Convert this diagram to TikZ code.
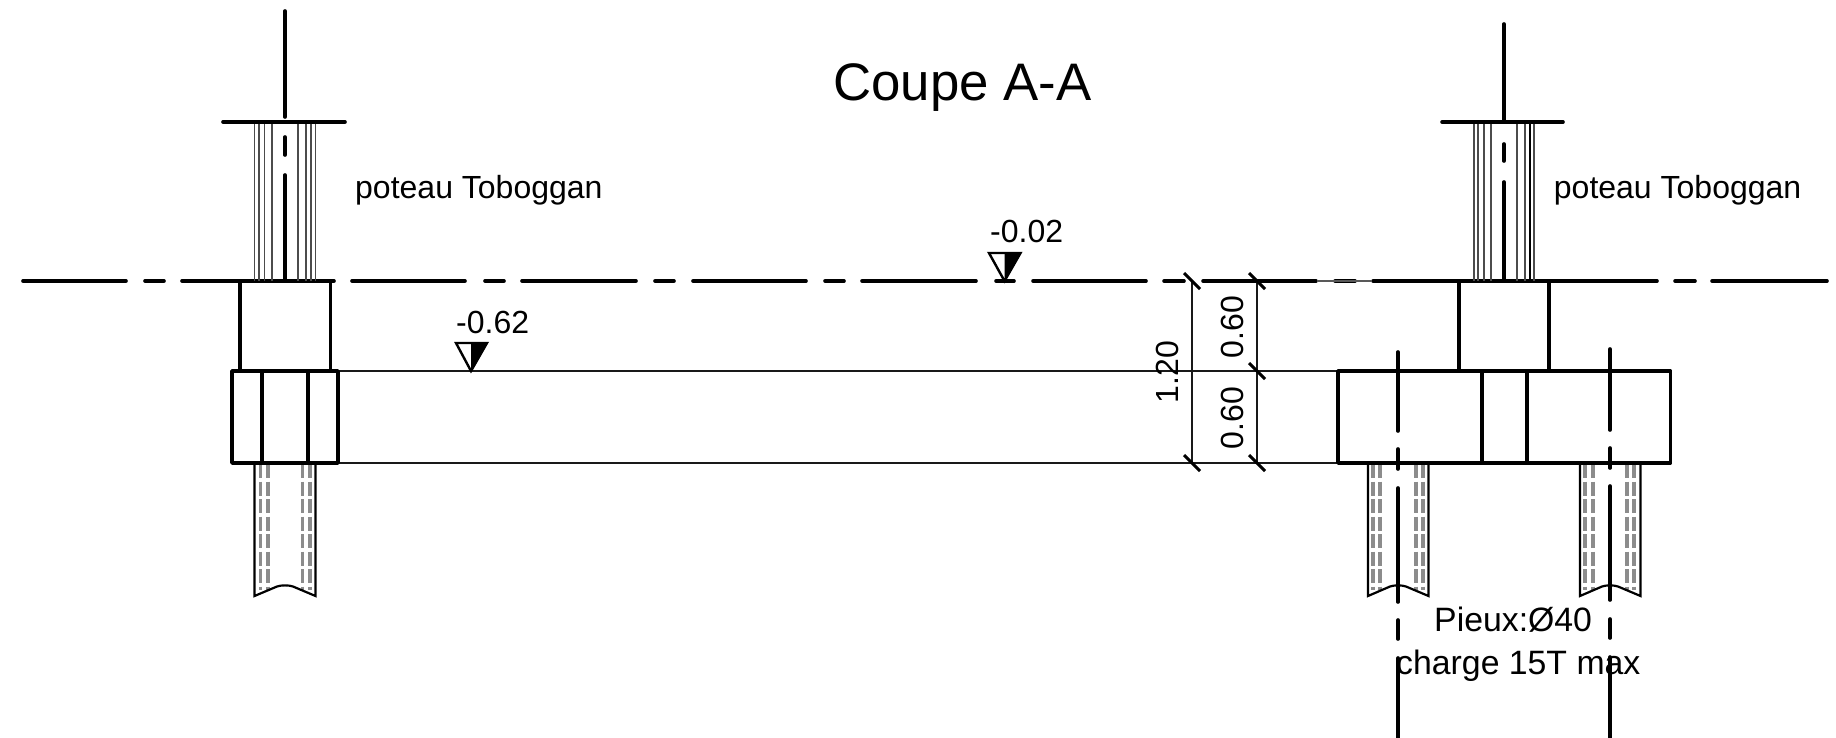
\documentclass[tikz,border=0pt]{standalone}
\usepackage{fontspec}
\setmainfont{Liberation Sans}
\tikzset{
  heavy/.style={line width=3.6pt,line cap=round,line join=round,black},
  wall/.style={line width=3.8pt,line join=round,black},
  thin line/.style={line width=2pt,black!90},
  hair/.style={line width=1.5pt,black!70},
  rebar/.style={line width=3.4pt,black!45,dash pattern=on 14pt off 3.5pt},
  piletube/.style={line width=2.2pt,black},
  tick/.style={line width=3pt,black},
  label/.style={inner sep=0pt,anchor=base west,font=\fontsize{32}{32}\selectfont},
  vlabel/.style={inner sep=0pt,anchor=base,rotate=90,font=\fontsize{32}{32}\selectfont},
}
\newcommand{\pilefoot}[6]{%
  % axis, left, right, four rebars
  \foreach \gx in {#3,#4,#5,#6} \draw[rebar] (\gx,464) -- (\gx,590);
  \draw[piletube] (#2,464) -- (#2,596) -- (#1-8,586.5) .. controls (#1-4,585) and (#1+4,585) .. (#1+8,586.5)
     -- (#1+30.5,596) -- (#1+30.5,464);
}
\begin{document}
\begin{tikzpicture}[x=1pt,y=-1pt]
\useasboundingbox (0,0) rectangle (1836,738);
% ground line
\foreach \a/\b in {23/126,145/164,182/334,352/465,485/504,522/636,655/674,693/806,825/844,862/976,996/1014,1033/1146,1164/1184,1203/1316,1335/1355,1373/1657,1675/1695,1712/1827}
  \draw[heavy] (\a,281) -- (\b,281);
\draw[line width=1.5pt,black!65] (1317,281) -- (1372,281);
% column 1
\foreach \x in {254.5,259,264.5,272,298,306,311,315.5} \draw[hair] (\x,122) -- (\x,281);
\draw[heavy] (223,122) -- (345,122);
\draw[heavy] (285,11) -- (285,117);
\draw[heavy] (285,137) -- (285,155);
\draw[heavy] (285,175) -- (285,281);
\draw[wall] (240,281) -- (240,371);
\draw[wall] (330.5,281) -- (330.5,371);
% column 2
\foreach \x in {1474,1478,1484,1491,1517,1525,1534} \draw[hair] (\x,122) -- (\x,281);
\draw[hair,line width=2.4pt,black] (1530,122) -- (1530,281);
\draw[heavy] (1442,122) -- (1563,122);
\draw[heavy] (1504,24) -- (1504,122);
\draw[heavy] (1504,144) -- (1504,161);
\draw[heavy] (1504,182) -- (1504,281);
\draw[wall] (1459,281) -- (1459,371);
\draw[wall] (1549,281) -- (1549,371);
% long beam lines
\draw[thin line] (338,371) -- (1338,371);
\draw[thin line] (338,463) -- (1338,463);
% piles
\pilefoot{285}{254.5}{260.5}{268}{302.5}{310}
\pilefoot{1398}{1368}{1373}{1380}{1416}{1423}
\pilefoot{1610}{1580}{1585}{1593}{1627}{1634}
% footings
\draw[wall] (232,371) rectangle (338,463);
\draw[wall] (262,371) -- (262,463);
\draw[wall] (308,371) -- (308,463);
\draw[wall] (1338,371) rectangle (1670.5,463);
\draw[wall] (1482,371) -- (1482,463);
\draw[wall] (1527,371) -- (1527,463);
% pile axes
\foreach \a/\b in {352/431,449/469,488/602,620/639,658/738} \draw[heavy] (1398,\a) -- (1398,\b);
\foreach \a/\b in {349/430,448/468,486/600,619/638,657/738} \draw[heavy] (1610,\a) -- (1610,\b);
% dimensions
\draw[thin line,line width=1.5pt] (1192,281) -- (1192,463);
\draw[thin line,line width=1.5pt] (1257,281) -- (1257,463);
\foreach \x/\y in {1192/281,1192/463,1257/281,1257/371,1257/463}
  \draw[tick] (\x-8,\y-8) -- (\x+8,\y+8);
% level markers
\fill[black] (471,343) -- (487,343) -- (471,371) -- cycle;
\draw[line width=2.4pt,line join=miter] (456,343) -- (487,343) -- (471,371) -- cycle;
\fill[black] (1004.5,253) -- (1020.5,253) -- (1004.5,281) -- cycle;
\draw[line width=2.4pt,line join=miter] (989,253) -- (1020.5,253) -- (1004.5,281) -- cycle;
% texts
\node[label,font=\fontsize{52.8}{52.8}\selectfont] (title) at (833,101) {Coupe A-A};
\node[label] (pot1) at (355,199) {poteau Toboggan};
\node[label] (pot2) at (1553.7,199) {poteau Toboggan};
\node[label] (lev1) at (990,243) {-0.02};
\node[label] (lev2) at (456,333) {-0.62};
\node[label,font=\fontsize{33.8}{33.8}\selectfont] (pieux) at (1434,631) {Pieux:Ø40};
\node[label,font=\fontsize{33.8}{33.8}\selectfont] (charge) at (1396,674) {charge 15T max};
\node[vlabel] (d1) at (1243,327) {0.60};
\node[vlabel] (d2) at (1243,418) {0.60};
\node[vlabel] (d3) at (1178,372) {1.20};
\end{tikzpicture}
\end{document}
